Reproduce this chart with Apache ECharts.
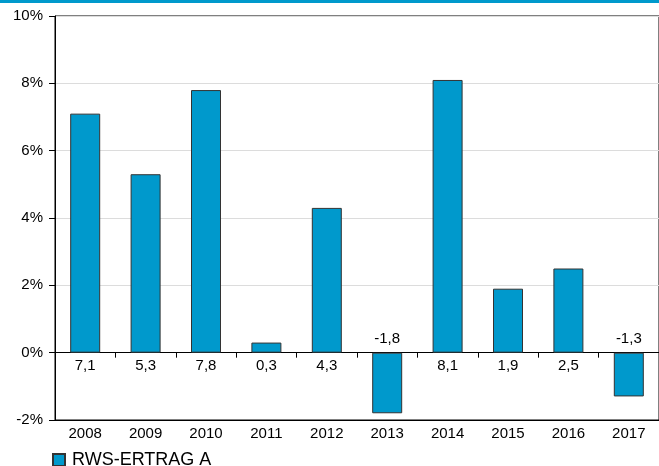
<!DOCTYPE html>
<html>
<head>
<meta charset="utf-8">
<script src="https://cdn.jsdelivr.net/npm/echarts@6/dist/echarts.min.js"></script>
<style>
  html, body { margin: 0; padding: 0; background: #fff; }
  #chart { width: 659px; height: 466px; }
</style>
</head>
<body>
<div id="chart"></div>
<script>
// Annual returns, in percent
const years = ['2008', '2009', '2010', '2011', '2012', '2013', '2014', '2015', '2016', '2017'];
const returns = [7.1, 5.3, 7.8, 0.3, 4.3, -1.8, 8.1, 1.9, 2.5, -1.3];
const seriesName = 'RWS-ERTRAG A';
const yTicks = { min: -2, max: 10, step: 2 };

const FONT = 'Liberation Sans, Arial, sans-serif';
const BLUE = '#0099cc';

const chart = echarts.init(document.getElementById('chart'));

const barData = returns.map(v => ({
  value: v,
  label: { position: v < 0 ? 'top' : 'bottom' }
}));

chart.setOption({
  animation: false,
  graphic: [{
    type: 'rect',
    left: 0, top: 0,
    shape: { width: 659, height: 3 },
    style: { fill: BLUE }
  }],
  grid: {
    left: 55, right: -3, top: 16, bottom: 46,
    show: true, borderColor: '#000', borderWidth: 1, backgroundColor: 'transparent'
  },
  legend: {
    left: 47, top: 446,
    itemWidth: 12, itemHeight: 12, itemGap: 10,
    icon: 'rect',
    textStyle: { fontFamily: FONT, fontSize: 18, color: '#000', padding: [0, 0, 0, 2] },
    data: [seriesName]
  },
  xAxis: [{
    type: 'category',
    data: years,
    position: 'bottom',
    axisLine: { onZero: false, lineStyle: { color: '#000', width: 1 } },
    axisTick: { show: false },
    axisLabel: { fontFamily: FONT, fontSize: 15, color: '#000', margin: 6 }
  }, {
    type: 'category',
    data: years,
    position: 'bottom',
    axisLine: { onZero: true, lineStyle: { color: '#000', width: 1 } },
    axisTick: { show: true, length: 5, lineStyle: { color: '#000' } },
    axisLabel: { show: false }
  }],
  yAxis: {
    type: 'value',
    min: yTicks.min, max: yTicks.max, interval: yTicks.step,
    axisLine: { show: true, lineStyle: { color: '#000' } },
    axisTick: { show: true, length: 6, lineStyle: { color: '#000' } },
    axisLabel: {
      fontFamily: FONT, fontSize: 15, color: '#000', margin: 12,
      formatter: v => v + '%'
    },
    splitLine: { lineStyle: { color: '#dcdcdc', width: 1 } }
  },
  series: [{
    name: seriesName,
    type: 'bar',
    xAxisIndex: 0,
    data: barData,
    barWidth: 30,
    itemStyle: { color: BLUE, borderColor: '#333', borderWidth: 1 },
    label: {
      show: true,
      distance: 6,
      fontFamily: FONT, fontSize: 15, color: '#000',
      formatter: p => String(p.value).replace('.', ',')
    }
  }]
});
</script>
</body>
</html>
